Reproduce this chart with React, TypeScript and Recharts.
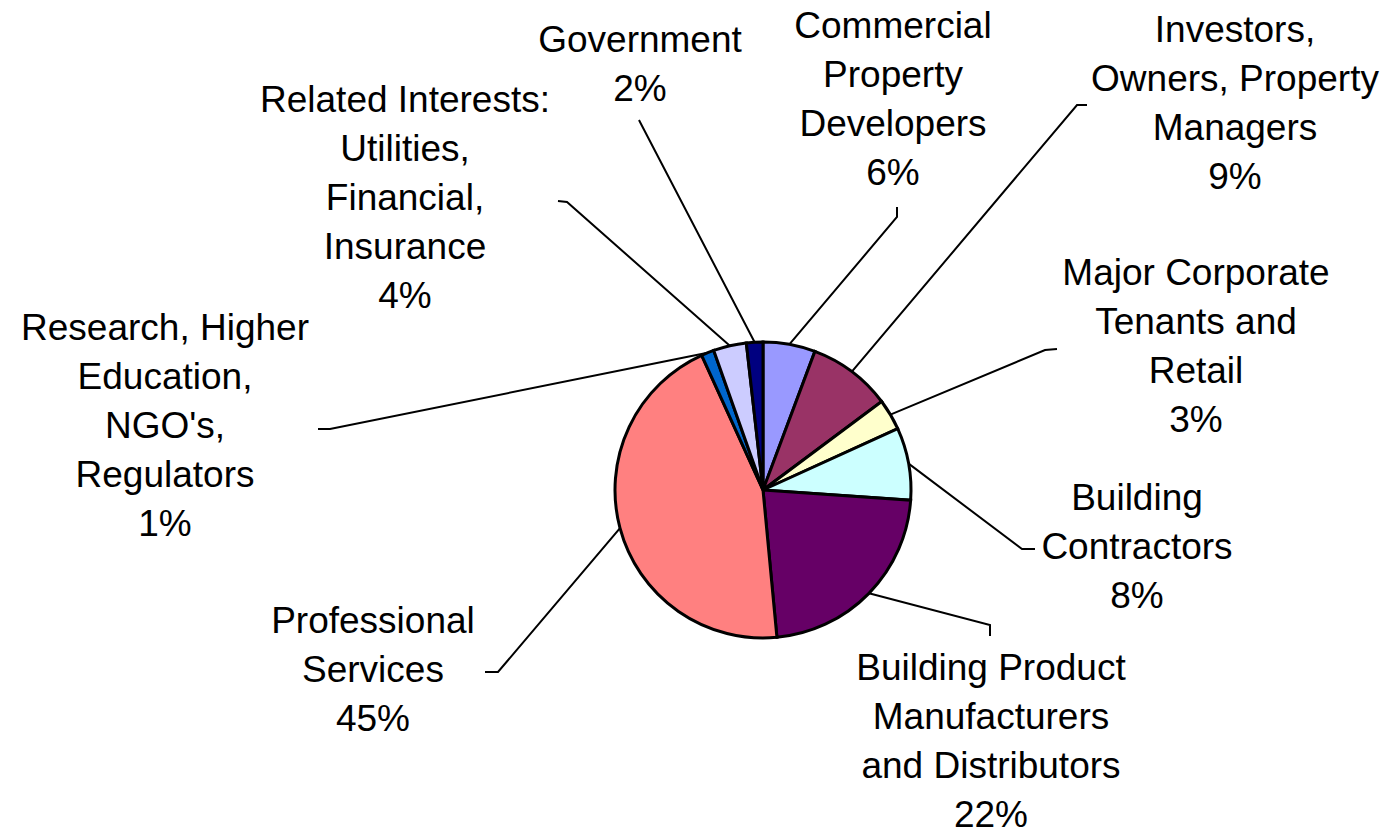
import * as React from 'react';
import { PieChart, Pie, Cell } from 'recharts';

const RADIAN = Math.PI / 180;

// slices, clockwise from 12 o'clock
const names = [
    'Commercial Property Developers',
    'Investors, Owners, Property Managers',
    'Major Corporate Tenants and Retail',
    'Building Contractors',
    'Building Product Manufacturers and Distributors',
    'Professional Services',
    "Research, Higher Education, NGO's, Regulators",
    'Related Interests: Utilities, Financial, Insurance',
    'Government',
];
const values = [5.7, 9.1, 3.4, 7.9, 22.4, 44.7, 1.4, 3.6, 1.8];
const labelLines = [
    ['Commercial', 'Property', 'Developers'],
    ['Investors,', 'Owners, Property', 'Managers'],
    ['Major Corporate', 'Tenants and', 'Retail'],
    ['Building', 'Contractors'],
    ['Building Product', 'Manufacturers', 'and Distributors'],
    ['Professional', 'Services'],
    ['Research, Higher', 'Education,', "NGO's,", 'Regulators'],
    ['Related Interests:', 'Utilities,', 'Financial,', 'Insurance'],
    ['Government'],
];

const COLORS = ['#9999FF', '#993366', '#FFFFCC', '#CCFFFF', '#660066', '#FF8080', '#0066CC', '#CCCCFF', '#000080'];

// where each label sits (text centre / first baseline) and where its leader line ends
const LAYOUT = [
    { x: 893, y: 38, elbow: [897, 217], end: [897, 207] },
    { x: 1235, y: 42, elbow: [1077, 105], end: [1087, 105] },
    { x: 1196, y: 285, elbow: [1045, 350], end: [1057, 349] },
    { x: 1137, y: 510, elbow: [1022, 549], end: [1035, 549] },
    { x: 991, y: 680, elbow: [990, 625], end: [990, 636] },
    { x: 373, y: 633, elbow: [498, 672], end: [485, 672] },
    { x: 165, y: 340, elbow: [330, 429], end: [318, 429] },
    { x: 405, y: 112, elbow: [567, 202], end: [558, 201] },
    { x: 640, y: 52, elbow: [640, 122], end: [639, 120] },
];

const LINE_H = 49;
const total = values.reduce((a, b) => a + b, 0);
const data = names.map((name, i) => ({ name, value: values[i] }));

const renderLabel = (props: any) => {
    const { cx, cy, midAngle, outerRadius, index } = props;
    const lay = LAYOUT[index];
    const sx = cx + outerRadius * Math.cos(-midAngle * RADIAN);
    const sy = cy + outerRadius * Math.sin(-midAngle * RADIAN);
    const lines = [...labelLines[index], `${Math.round((values[index] / total) * 100)}%`];
    return (
        <g key={`lbl-${index}`}>
            <polyline
                points={`${sx},${sy} ${lay.elbow[0]},${lay.elbow[1]} ${lay.end[0]},${lay.end[1]}`}
                fill='none'
                stroke='#000'
                strokeWidth={2}
            />
            <text
                textAnchor='middle'
                fill='#000'
                fontSize={37}
                fontFamily='"Liberation Sans", Arial, sans-serif'
            >
                {lines.map((t, i) => (
                    <tspan key={i} x={lay.x} y={lay.y + i * LINE_H}>{t}</tspan>
                ))}
            </text>
        </g>
    );
};

export default function App() {
    return (
        <div style={{ position: 'absolute', left: 0, top: 0, background: '#fff' }}>
            <PieChart width={1385} height={831} margin={{ top: 0, right: 0, bottom: 0, left: 0 }}>
                <Pie
                    data={data}
                    dataKey='value'
                    nameKey='name'
                    cx={763}
                    cy={490}
                    outerRadius={148}
                    startAngle={90}
                    endAngle={-270}
                    labelLine={false}
                    label={renderLabel}
                    isAnimationActive={false}
                >
                    {data.map((entry, index) => (
                        <Cell key={`cell-${index}`} fill={COLORS[index]} stroke='#000' strokeWidth={3} />
                    ))}
                </Pie>
            </PieChart>
        </div>
    );
}
